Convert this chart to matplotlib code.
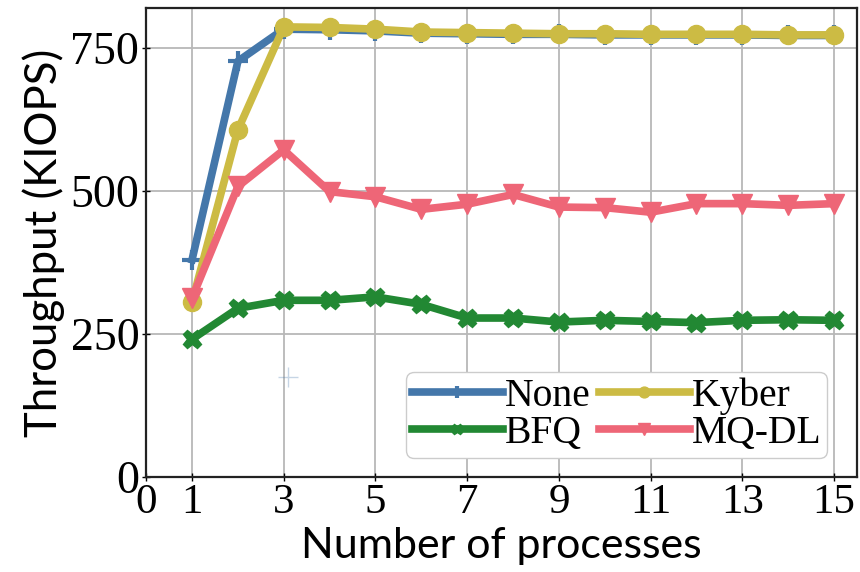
import matplotlib
matplotlib.use("Agg")
import matplotlib.pyplot as plt

procs = list(range(1, 16))
none_vals = [380, 727, 783, 782, 780, 776, 775, 774, 774, 773, 773, 773, 773, 772, 772]
bfq_vals = [241, 295, 309, 309, 315, 302, 278, 278, 271, 274, 272, 270, 274, 275, 274]
kyber_vals = [306, 607, 787, 786, 783, 778, 777, 776, 775, 775, 774, 774, 774, 773, 773]
mqdl_vals = [313, 508, 572, 499, 490, 468, 477, 494, 472, 471, 463, 478, 478, 475, 478]
stray_x = [3.1]
stray_y = [175]

xticks = [0, 1, 3, 5, 7, 9, 11, 13, 15]
yticks = [0, 250, 500, 750]

blue, green, yellow, red = "#4477AA", "#228833", "#CCBB44", "#EE6677"

fig = plt.figure(figsize=(8.6, 5.72), dpi=100)
ax = fig.add_axes([0.170, 0.166, 0.8265, 0.820])

ax.plot(procs, none_vals, color=blue, lw=5.5, marker="+", ms=14, mew=3, label="None")
ax.plot(procs, bfq_vals, color=green, lw=5.5, marker="X", ms=13, label="BFQ")
ax.plot(procs, kyber_vals, color=yellow, lw=5.5, marker="o", ms=13, label="Kyber")
ax.plot(procs, mqdl_vals, color=red, lw=5.5, marker="v", ms=14, label="MQ-DL")
ax.plot(stray_x, stray_y, ls="none", marker="+", ms=14, mew=1, color=blue, alpha=0.3)

ax.set_xlim(0, 15.5)
ax.set_ylim(0, 820)
ax.set_xticks(xticks)
ax.set_yticks(yticks)
ax.grid(True, color="#b8b8b8", lw=1.3)
ax.set_axisbelow(True)
for s in ax.spines.values():
    s.set_color("#222222")
    s.set_linewidth(1.6)

ax.tick_params(direction="inout", length=6, width=1, pad=2)
for lab in ax.get_xticklabels():
    lab.set_fontfamily("Liberation Serif")
    lab.set_fontsize(31)
for lab in ax.get_yticklabels():
    lab.set_fontfamily("Liberation Serif")
    lab.set_fontsize(33)

ax.set_xlabel("Number of processes", fontfamily="Lato", fontsize=31, labelpad=3)
ax.set_ylabel("Throughput (KIOPS)", fontfamily="Lato", fontsize=31.5, labelpad=4)

leg = ax.legend(ncol=2, loc="lower right", bbox_to_anchor=(0.958, 0.04), borderaxespad=0,
                prop={"family": "Liberation Serif", "size": 28.5},
                handlelength=2.3, handletextpad=0.05, columnspacing=0.2, labelspacing=0.0,
                borderpad=0.15, markerscale=0.6, framealpha=1,
                edgecolor="#cccccc", fancybox=True)

fig.savefig("out.png", dpi=100)
